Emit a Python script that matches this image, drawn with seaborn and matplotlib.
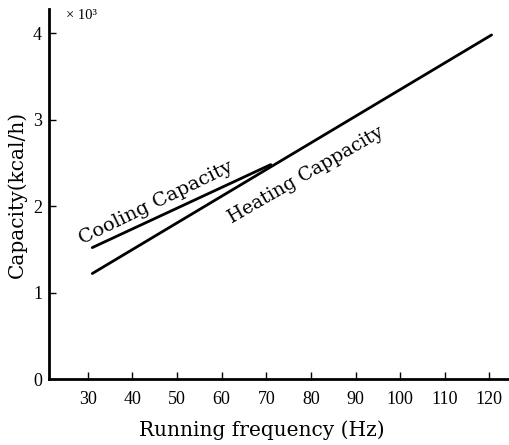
import matplotlib
matplotlib.use("Agg")
import matplotlib.pyplot as plt
import seaborn as sns
import pandas as pd

# Data (capacity in 10^3 kcal/h)
cooling_freq = [31, 71]
cooling_cap = [1.52, 2.48]
heating_freq = [31, 120.5]
heating_cap = [1.22, 3.98]
x_ticks = [30, 40, 50, 60, 70, 80, 90, 100, 110, 120]
y_ticks = [0, 1, 2, 3, 4]

df = pd.concat([
    pd.DataFrame({"freq": cooling_freq, "cap": cooling_cap, "series": "Cooling Capacity"}),
    pd.DataFrame({"freq": heating_freq, "cap": heating_cap, "series": "Heating Cappacity"}),
])

sns.set_style("ticks")
plt.rcParams['font.family'] = ['Liberation Serif', 'DejaVu Serif']
plt.rcParams['text.color'] = 'black'
plt.rcParams['axes.labelcolor'] = 'black'

fig = plt.figure(figsize=(5.09, 4.45), dpi=100)
ax = fig.add_axes([49/509, (445-379)/445, (509-49)/509, (379-9)/445])

sns.lineplot(data=df, x="freq", y="cap", hue="series",
             palette={"Cooling Capacity": "black", "Heating Cappacity": "black"},
             linewidth=2.0, legend=False, ax=ax)

ax.set_xlim(21.3, 124.4)
ax.set_ylim(0, 4.28)
ax.set_xticks(x_ticks)
ax.set_yticks(y_ticks)
ax.tick_params(direction="in", length=5, width=1.0, labelsize=13, colors="black")
ax.tick_params(axis="x", pad=9)
ax.tick_params(axis="y", pad=5)
sns.despine(ax=ax)
for s in ["left", "bottom"]:
    ax.spines[s].set_linewidth(2.0)
    ax.spines[s].set_color("black")

lab_font = dict(family=['DejaVu Serif'], fontsize=14.5, color="black")
ax.set_xlabel("Running frequency (Hz)", **lab_font)
ax.xaxis.set_label_coords(0.463, -0.113)
ax.set_ylabel("Capacity(kcal/h)", labelpad=4, **lab_font)

txt_font = dict(family=['DejaVu Serif'], fontsize=14, color="black")
ax.text(45.2, 2.04, "Cooling Capacity", rotation=26, ha="center", va="center",
        rotation_mode="anchor", **txt_font)
ax.text(78.8, 2.36, "Heating Cappacity", rotation=30, ha="center", va="center",
        rotation_mode="anchor", family=['DejaVu Serif'], fontsize=13.5, color="black")
ax.text(25.2, 4.2, "× 10³", fontsize=10.5, ha="left", va="center", color="black")

fig.savefig("out.png", dpi=100)
